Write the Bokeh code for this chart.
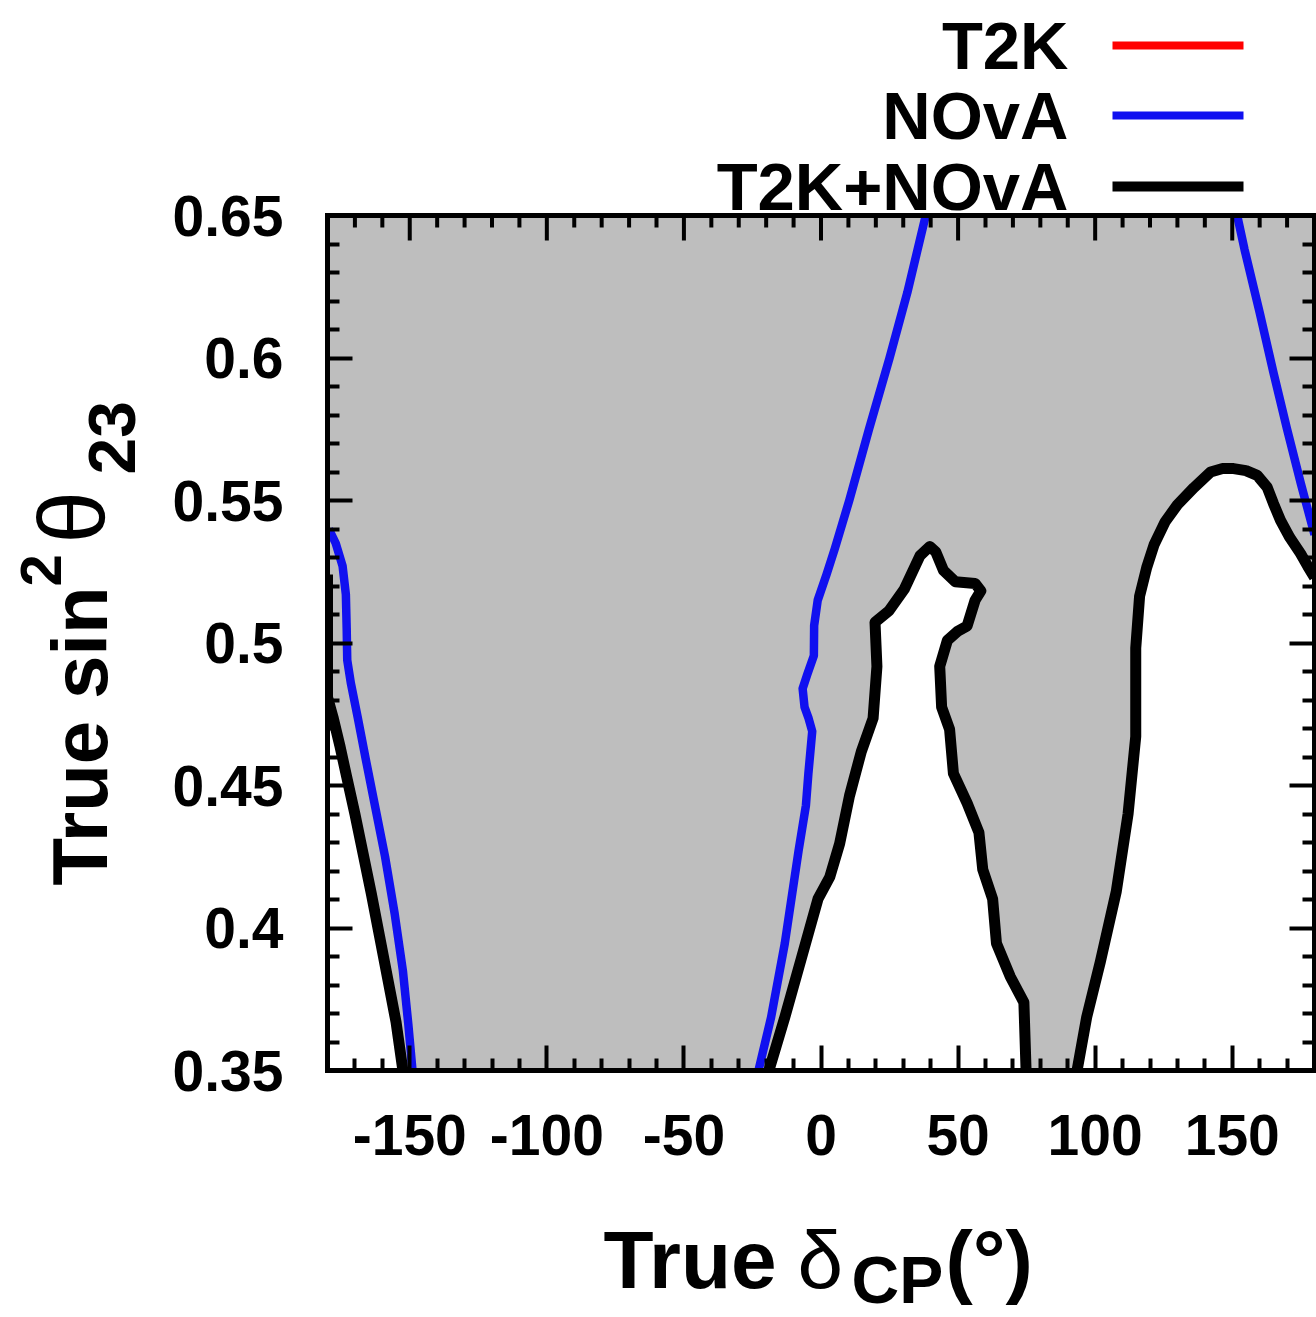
import math
from bokeh.plotting import figure
from bokeh.layouts import column, row
from bokeh.models import Range1d, LinearAxis, FixedTicker, Span
from bokeh.core.properties import value
from bokeh.embed import file_html
from bokeh.resources import INLINE

# ---------------- data ----------------
x_ticks = [-150, -100, -50, 0, 50, 100, 150]
x_tick_labels = ["-150", "-100", "-50", "0", "50", "100", "150"]
x_minor_ticks = [-170, -160, -140, -130, -120, -110, -90, -80, -70, -60, -40, -30, -20, -10,
                 10, 20, 30, 40, 60, 70, 80, 90, 110, 120, 130, 140, 160, 170]
y_ticks = [0.35, 0.4, 0.45, 0.5, 0.55, 0.6, 0.65]
y_tick_labels = ["0.35", "0.4", "0.45", "0.5", "0.55", "0.6", "0.65"]
y_minor_ticks = [0.36, 0.37, 0.38, 0.39, 0.41, 0.42, 0.43, 0.44, 0.46, 0.47, 0.48, 0.49,
                 0.51, 0.52, 0.53, 0.54, 0.56, 0.57, 0.58, 0.59, 0.61, 0.62, 0.63, 0.64]

legend_labels = ["T2K", "NOvA", "T2K+NOvA"]
legend_colors = ["#ff0000", "#1010f0", "#000000"]

# NOvA contour (blue)
nova_left_x = [-179.5, -177.0, -174.5, -173.3, -173.0, -172.8, -171.5, -169.0, -166.0,
               -162.5, -159.0, -155.5, -152.5, -150.5, -149.0]
nova_left_y = [0.540, 0.535, 0.527, 0.517, 0.505, 0.494, 0.486, 0.474, 0.459,
               0.442, 0.425, 0.405, 0.385, 0.366, 0.350]
nova_mid_x = [-22.8, -18.2, -13.2, -8.2, -5.5, -4.6, -3.2, -4.5, -6.0, -6.7, -5.0, -2.6,
              -2.5, -1.2, 2.0, 5.0, 10.3, 17.5, 25.0, 31.5, 38.2]
nova_mid_y = [0.350, 0.3687, 0.3946, 0.427, 0.443, 0.4542, 0.469, 0.4735, 0.4775, 0.484,
              0.489, 0.4956, 0.5061, 0.515, 0.524, 0.533, 0.550, 0.575, 0.600, 0.623, 0.650]
nova_right_x = [151.8, 154.5, 160.0, 165.0, 170.0, 175.0, 180.0]
nova_right_y = [0.650, 0.638, 0.616, 0.595, 0.575, 0.556, 0.538]

# T2K+NOvA contour (black)
combo_left_x = [-180.0, -180.0, -178.0, -175.5, -173.0, -170.0, -167.0, -164.0, -161.0,
                -158.0, -155.0, -152.5]
combo_left_y = [0.524, 0.481, 0.474, 0.464, 0.453, 0.440, 0.426, 0.412, 0.397,
                0.382, 0.367, 0.350]
combo_mid_x = [-19.0, -13.2, -7.5, -1.1, 3.2, 6.8, 10.4, 14.7, 19.0, 20.4, 19.7, 24.7,
               30.4, 36.1, 39.7, 41.9, 44.7, 49.0, 56.2, 58.3, 56.2, 53.3, 49.7, 46.1,
               43.3, 44.0, 46.9, 48.3, 53.3, 57.6, 59.0, 62.6, 64.0, 69.0, 74.0, 74.8]
combo_mid_y = [0.350, 0.3687, 0.3882, 0.4102, 0.4179, 0.4296, 0.4464, 0.4619, 0.4736,
               0.4918, 0.5073, 0.5112, 0.5189, 0.5306, 0.5339, 0.5319, 0.5254, 0.5215,
               0.5209, 0.5183, 0.515, 0.506, 0.504, 0.5009, 0.4918, 0.4775, 0.4697,
               0.4542, 0.4438, 0.4335, 0.4205, 0.4102, 0.3946, 0.383, 0.3739, 0.350]
combo_right_x = [93.4, 96.9, 101.9, 107.7, 112.0, 114.8, 114.8, 116.2, 118.8, 121.5, 125.5,
                 130.0, 136.0, 142.1, 146.5, 150.5, 155.0, 159.1, 162.7, 165.0, 167.6,
                 171.0, 174.9, 177.5, 180.0]
combo_right_y = [0.350, 0.3687, 0.3882, 0.4128, 0.440, 0.4672, 0.4982, 0.5164, 0.5265,
                 0.5345, 0.5425, 0.5485, 0.5545, 0.5600, 0.5612, 0.5612, 0.5605, 0.5588,
                 0.5547, 0.549, 0.543, 0.537, 0.5314, 0.527, 0.523]

X_MIN, X_MAX = -180, 180
Y_MIN, Y_MAX = 0.35, 0.65

FONT = "Liberation Sans"
GRAY = "#bebebe"
BLUE = legend_colors[1]

# ---- layout geometry (pixels) ----
FRAME_W = 987          # plotting box width
BOX_H = 855            # plotting box height (0.35..0.65)
TOP_SPACE = 215        # white space above the box that holds the key
PX_PER_Y = BOX_H / (Y_MAX - Y_MIN)
PX_PER_X = FRAME_W / (X_MAX - X_MIN)
Y_TOP = Y_MAX + TOP_SPACE / PX_PER_Y


def sx(px):  # page x pixel -> data x (used only for placing the key)
    return X_MIN + (px - 327) / PX_PER_X


def sy(py):  # page y pixel -> data y (used only for placing the key)
    return Y_MAX + (TOP_SPACE - py) / PX_PER_Y


def blank(fig):
    fig.grid.visible = False
    fig.outline_line_color = None
    fig.background_fill_color = "white"
    fig.border_fill_color = "white"


# ---------------- main plot ----------------
main = figure(width=1166, height=1177, x_range=Range1d(X_MIN, X_MAX), y_range=Range1d(Y_MIN, Y_TOP),
              output_backend="svg", toolbar_location=None,
              x_axis_location=None, y_axis_location=None,
              min_border_left=177, min_border_right=2, min_border_top=0, min_border_bottom=107)
blank(main)


def make_axis(ticks, minor, labels, show, bounds=None):
    ax = LinearAxis(ticker=FixedTicker(ticks=ticks, minor_ticks=minor))
    if bounds is not None:
        ax.bounds = bounds
    ax.axis_line_width = 5
    ax.axis_line_color = "black"
    ax.axis_line_cap = "square"
    ax.major_tick_in = 25
    ax.major_tick_out = 0
    ax.minor_tick_in = 12
    ax.minor_tick_out = 0
    ax.major_tick_line_width = 4
    ax.minor_tick_line_width = 4
    ax.major_tick_line_color = "black"
    ax.minor_tick_line_color = "black"
    if show:
        ax.major_label_overrides = {t: l for t, l in zip(ticks, labels)}
        ax.major_label_text_font = FONT
        ax.major_label_text_font_style = "bold"
        ax.major_label_text_font_size = "57px"
        ax.major_label_text_color = "black"
    else:
        ax.major_label_overrides = {t: "" for t in ticks}
        ax.major_label_text_font_size = "1px"
        ax.major_label_standoff = 0
    return ax


bottom = make_axis(x_ticks, x_minor_ticks, x_tick_labels, True)
bottom.major_label_standoff = 44
left = make_axis(y_ticks, y_minor_ticks, y_tick_labels, True, bounds=(Y_MIN, Y_MAX))
left.major_label_standoff = 44
right = make_axis(y_ticks, y_minor_ticks, y_tick_labels, False, bounds=(Y_MIN, Y_MAX))
main.add_layout(bottom, "below")
main.add_layout(left, "left")
main.add_layout(right, "right")

# excluded region (gray) and allowed regions (white) bounded by the black contour
main.quad(left=[X_MIN], right=[X_MAX], bottom=[Y_MIN], top=[Y_MAX], fill_color=GRAY, line_color=None)
main.patch(combo_left_x + [X_MIN], combo_left_y + [Y_MIN], fill_color="white", line_color=None)
main.patch(combo_mid_x, combo_mid_y, fill_color="white", line_color=None)
main.patch(combo_right_x + [X_MAX], combo_right_y + [Y_MIN], fill_color="white", line_color=None)

for xs, ys in [(nova_left_x, nova_left_y), (nova_mid_x, nova_mid_y), (nova_right_x, nova_right_y)]:
    main.line(xs, ys, line_color=BLUE, line_width=8.5, line_join="round")
for xs, ys in [(combo_left_x, combo_left_y), (combo_mid_x, combo_mid_y), (combo_right_x, combo_right_y)]:
    main.line(xs, ys, line_color="black", line_width=11, line_join="round")

# top border of the box with inward ticks
main.ray(x=x_ticks, y=[Y_MAX] * len(x_ticks), length=25, length_units="screen",
         angle=-math.pi / 2, line_color="black", line_width=4)
main.ray(x=x_minor_ticks, y=[Y_MAX] * len(x_minor_ticks), length=12, length_units="screen",
         angle=-math.pi / 2, line_color="black", line_width=4)
main.add_layout(Span(location=Y_MAX, dimension="width", line_color="black", line_width=5))

# key (placed above the box)
key_y = [sy(45), sy(115), sy(186)]
main.text(x=[sx(1068)] * 3, y=key_y, text=legend_labels,
          text_align="right", text_baseline="alphabetic",
          text_font=value(FONT), text_font_style="bold", text_font_size="67px", text_color="black")
main.segment(x0=[sx(1112)] * 3, y0=key_y, x1=[sx(1243)] * 3, y1=key_y,
             line_color=legend_colors, line_width=[8, 8, 10])

# ---------------- y-axis title ----------------
# frame of this panel is aligned to the main frame (page y 0..1070)
ylab = figure(width=150, height=1177, x_range=Range1d(0, 150), y_range=Range1d(1070, 0),
              output_backend="svg", toolbar_location=None,
              x_axis_location=None, y_axis_location=None,
              min_border_left=0, min_border_right=0, min_border_top=0, min_border_bottom=107)
blank(ylab)
ang = math.pi / 2
ylab.text(x=[79], y=[885], text=["True sin"], angle=ang, text_align="left", text_baseline="alphabetic",
          text_font=value(FONT), text_font_style="bold", text_font_size="78px")
ylab.text(x=[40], y=[586], text=["2"], angle=ang, text_align="left", text_baseline="alphabetic",
          text_font=value(FONT), text_font_style="bold", text_font_size="58px")
ylab.text(x=[72], y=[543], text=["θ"], angle=ang, text_align="left", text_baseline="alphabetic",
          text_font=value(FONT), text_font_style="normal", text_font_size="94px")
ylab.text(x=[111], y=[474], text=["23"], angle=ang, text_align="left", text_baseline="alphabetic",
          text_font=value(FONT), text_font_style="bold", text_font_size="66px")

# ---------------- x-axis title ----------------
xlab = figure(width=1316, height=140, x_range=Range1d(0, 1316), y_range=Range1d(1317, 1177),
              output_backend="svg", toolbar_location=None,
              x_axis_location=None, y_axis_location=None, min_border=0)
blank(xlab)
xlab.text(x=[603], y=[1259], text=["True "], text_align="left", text_baseline="alphabetic",
          text_font=value(FONT), text_font_style="bold", text_font_size="82px")
xlab.text(x=[797], y=[1259], text=["δ"], text_align="left", text_baseline="alphabetic",
          text_font=value(FONT), text_font_style="normal", text_font_size="82px")
xlab.text(x=[851], y=[1279], text=["CP"], text_align="left", text_baseline="alphabetic",
          text_font=value(FONT), text_font_style="bold", text_font_size="66px")
xlab.text(x=[945], y=[1259], text=["(°)"], text_align="left", text_baseline="alphabetic",
          text_font=value(FONT), text_font_style="bold", text_font_size="82px")

layout = column(row(ylab, main), xlab)
open("out.html", "w").write(file_html(layout, INLINE))
